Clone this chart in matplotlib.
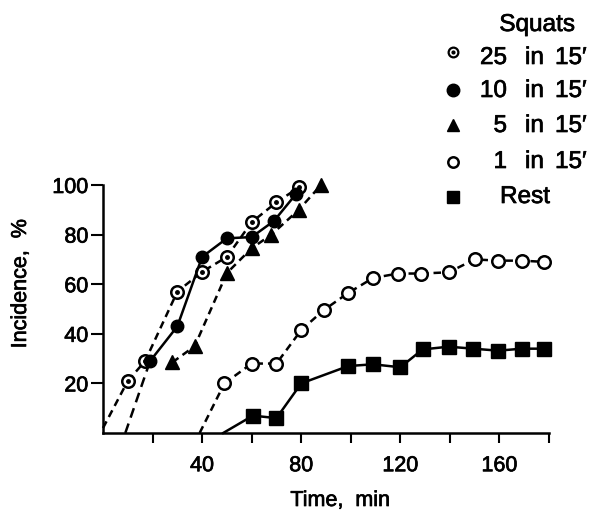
import matplotlib
matplotlib.use("Agg")
import matplotlib.pyplot as plt
import matplotlib.patheffects as pe

plt.rcParams['font.family'] = ['Liberation Sans', 'DejaVu Sans']

# data (time in min, incidence in %)
t_25 = [10, 17, 30, 40, 50, 60, 70, 79]
y_25 = [21, 29, 57, 65, 71, 85, 93, 99]
ext_25_t = [0, 10]
ext_25_y = [2, 21]

t_10 = [19, 30, 40, 50, 60, 69, 78]
y_10 = [29, 43, 71, 78.5, 79, 85.5, 96.5]
ext_10_t = [9, 19]
ext_10_y = [0, 29]

t_5 = [28, 37, 50, 60, 68, 79, 88]
y_5 = [28.5, 35, 64.5, 74.5, 80, 90, 100]

t_1 = [49, 60, 70, 80, 89, 99, 109, 119, 128.5, 139.5, 150, 159.5, 169, 178]
y_1 = [20, 28, 28, 41.5, 49.5, 56.5, 62.5, 64.3, 64.3, 64.8, 70, 69.5, 69.5, 69]
ext_1_t = [39, 49]
ext_1_y = [0, 20]

t_rest = [60.5, 70, 80, 99, 109, 120, 129, 139.5, 149.5, 159.5, 169, 178]
y_rest = [7, 6, 20, 27, 27.7, 26.5, 33.7, 34.8, 34, 33.2, 34, 34]
ext_rest_t = [48.5, 60.5]
ext_rest_y = [0, 7]

x_ticks = [20, 40, 60, 80, 100, 120, 140, 160, 180]
x_labels = ['', '40', '', '80', '', '120', '', '160', '']
y_ticks = [20, 40, 60, 80, 100]

legend_labels = [('25', 'in', "15\u2032"), ('10', 'in', "15\u2032"), ('5', 'in', "15\u2032"),
                 ('1', 'in', "15\u2032"), ('Rest', '', '')]

thick = [pe.withStroke(linewidth=0.5, foreground='black')]

fig = plt.figure(figsize=(5.97, 5.13), dpi=100)
ax = fig.add_axes([103 / 597, 1 - 433 / 513, 446 / 597, 248 / 513])

lw = 1.8
dash = (0, (3, 2))
ms = 9

# 25 in 15' : bullseye, dashed
ax.plot(ext_25_t, ext_25_y, color='black', lw=lw, ls=dash, clip_on=False)
ax.plot(t_25, y_25, color='black', lw=lw, ls=dash, marker='o', ms=ms, mfc='white',
        mec='black', mew=1.8, clip_on=False, zorder=3)
ax.plot(t_25, y_25, ls='none', marker='o', ms=2.5, color='black', clip_on=False, zorder=4)

# 10 in 15' : filled circle, solid
ax.plot(ext_10_t, ext_10_y, color='black', lw=lw, ls=(0, (4, 2.5)), clip_on=False)
ax.plot(t_10, y_10, color='black', lw=lw, ls='-', marker='o', ms=ms, clip_on=False, zorder=3)

# 5 in 15' : triangle, dashed
ax.plot(t_5, y_5, color='black', lw=lw, ls=dash, marker='^', ms=9.5, clip_on=False, zorder=3)

# 1 in 15' : open circle, dashed
ax.plot(ext_1_t, ext_1_y, color='black', lw=lw, ls=dash, clip_on=False)
ax.plot(t_1, y_1, color='black', lw=lw, ls=dash, marker='o', ms=ms, mfc='white',
        mec='black', mew=1.8, clip_on=False, zorder=3)

# Rest : square, solid
ax.plot(ext_rest_t, ext_rest_y, color='black', lw=lw, clip_on=False)
ax.plot(t_rest, y_rest, color='black', lw=lw, marker='s', ms=9.5, clip_on=False, zorder=3)

ax.set_xlim(0, 180)
ax.set_ylim(0, 100)
ax.patch.set_visible(False)
ax.spines['top'].set_visible(False)
ax.spines['right'].set_visible(False)
for s in ('left', 'bottom'):
    ax.spines[s].set_linewidth(1.8)
ax.set_xticks(x_ticks)
ax.set_xticklabels(x_labels)
ax.set_yticks(y_ticks)
ax.tick_params(axis='both', direction='out', width=1.5, labelsize=15.5, color='black')
ax.tick_params(axis='x', length=7, pad=9)
ax.tick_params(axis='y', length=8.5, pad=2)
ax.set_xlabel('Time,  min', fontsize=15.5)
ax.set_ylabel('Incidence,  %', fontsize=15.5)
ax.xaxis.set_label_coords((340 - 103) / 446, -(490 - 433) / 248)
ax.yaxis.set_label_coords((31 - 103) / 446, (433 - 284) / 248)
for t in ax.get_xticklabels() + ax.get_yticklabels() + [ax.xaxis.label, ax.yaxis.label]:
    t.set_path_effects(thick)

# legend drawn in pixel space
lg = fig.add_axes([0, 0, 1, 1], zorder=5)
lg.set_xlim(0, 597)
lg.set_ylim(513, 0)
lg.axis('off')
fs = 17.5
lg.text(537, 25, 'Squats', fontsize=fs, ha='center', va='center', path_effects=thick)
rows_y = [58, 91, 126, 162, 197]
lg.plot([453], [52], marker='o', ms=7, mfc='white', mec='black', mew=1.6, ls='none')
lg.plot([453], [52], marker='o', ms=2, color='black', ls='none')
lg.plot([453], [90], marker='o', ms=9, color='black', ls='none')
lg.plot([453], [125], marker='^', ms=9, color='black', ls='none')
lg.plot([453], [162], marker='o', ms=7.5, mfc='white', mec='black', mew=1.8, ls='none')
lg.plot([453], [197], marker='s', ms=9, color='black', ls='none')
for (num, word, per), yy in zip(legend_labels, rows_y):
    if num == 'Rest':
        lg.text(500, yy, num, fontsize=fs, ha='left', va='center', path_effects=thick)
        continue
    lg.text(507, yy, num, fontsize=fs, ha='right', va='center', path_effects=thick)
    lg.text(525, yy, word, fontsize=fs, ha='left', va='center', path_effects=thick)
    lg.text(555, yy, per, fontsize=fs, ha='left', va='center', path_effects=thick)

fig.savefig('out.png', dpi=100)
